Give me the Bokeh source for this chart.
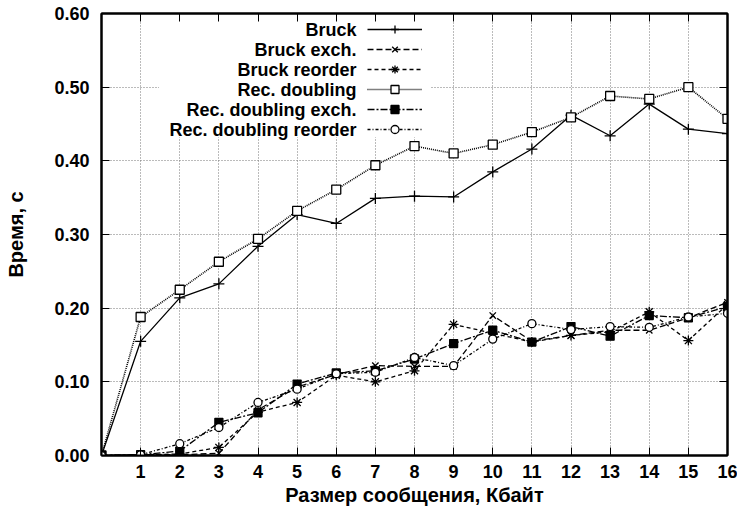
from bokeh.plotting import figure
from bokeh.models import (Legend, LegendItem, LinearAxis, FixedTicker, Label,
                          NumeralTickFormatter, Range1d, BoxAnnotation,
                          CustomJSTickFormatter)
from bokeh.core.properties import value
from bokeh.embed import file_html
from bokeh.resources import INLINE

# ---- data ----
sizes_kb = list(range(0, 17))
bruck = [0, 0.155, 0.214, 0.233, 0.284, 0.327, 0.315, 0.349, 0.352, 0.351,
         0.385, 0.416, 0.462, 0.434, 0.477, 0.443, 0.437]
bruck_exch = [0, 0.001, 0.001, 0.003, 0.062, 0.093, 0.110, 0.122, 0.121, 0.121,
              0.190, 0.155, 0.163, 0.170, 0.170, 0.187, 0.208]
bruck_reorder = [0, 0.001, 0.002, 0.011, 0.059, 0.072, 0.109, 0.100, 0.115, 0.178,
                 0.166, 0.154, 0.163, 0.168, 0.195, 0.156, 0.205]
rec_doubling = [0, 0.188, 0.225, 0.263, 0.294, 0.332, 0.361, 0.394, 0.420, 0.410,
                0.422, 0.439, 0.459, 0.488, 0.484, 0.500, 0.457]
rec_doubling_exch = [0, 0.001, 0.006, 0.045, 0.058, 0.097, 0.112, 0.115, 0.131, 0.152,
                     0.170, 0.154, 0.175, 0.162, 0.190, 0.187, 0.202]
rec_doubling_reorder = [0, 0.001, 0.016, 0.038, 0.072, 0.090, 0.111, 0.113, 0.133, 0.122,
                        0.158, 0.179, 0.171, 0.175, 0.174, 0.188, 0.193]

series_names = ["Bruck", "Bruck exch.", "Bruck reorder", "Rec. doubling",
                "Rec. doubling exch.", "Rec. doubling reorder"]
series_values = [bruck, bruck_exch, bruck_reorder, rec_doubling,
                 rec_doubling_exch, rec_doubling_reorder]

x_ticks = list(range(1, 17))
y_ticks = [0.0, 0.1, 0.2, 0.3, 0.4, 0.5, 0.6]
x_title = "Размер сообщения, Кбайт"
y_title = "Время, с"

# ---- styles ----
dashes = ["solid", "6 3", "4 3", "1 1", "7 2 2 2", "3 2 1 2"]
widths = [1.3, 1.3, 1.3, 1.6, 1.3, 1.3]
markers = ["cross", "x", "asterisk", "square", "square", "circle"]
fills = ["black", "black", "black", "white", "black", "white"]
msizes = [11, 9, 10, 9, 8, 8]

FONT = "Liberation Sans"
W, H = 737, 511
BL, BR, BT, BB = 101, 10, 13, 56
FH = H - BT - BB  # frame height in px

p = figure(width=W, height=H, x_range=Range1d(0, 16), y_range=Range1d(0, 0.6),
           output_backend="svg", toolbar_location=None,
           min_border_left=BL, min_border_right=BR, min_border_top=BT,
           min_border_bottom=BB)

p.outline_line_color = "black"
p.outline_line_width = 2

# grid
p.xgrid.ticker = FixedTicker(ticks=x_ticks[:-1])
p.ygrid.ticker = FixedTicker(ticks=y_ticks)
for g in (p.xgrid, p.ygrid):
    g.grid_line_color = "#777777"
    g.grid_line_dash = "1 2"
    g.grid_line_width = 1

# axes
p.xaxis.ticker = FixedTicker(ticks=x_ticks)
p.yaxis.ticker = FixedTicker(ticks=y_ticks)
p.yaxis.formatter = NumeralTickFormatter(format="0.00")
p.xaxis.axis_label = x_title
p.yaxis.axis_label = y_title
for ax in (p.xaxis, p.yaxis):
    ax.axis_line_width = 2
    ax.major_tick_in = 8
    ax.major_tick_out = 0
    ax.major_tick_line_width = 1
    ax.minor_tick_line_color = None
    ax.major_label_text_font = FONT
    ax.major_label_text_font_style = "bold"
    ax.major_label_text_font_size = "18px"
    ax.major_label_text_color = "black"
    ax.axis_label_text_font = FONT
    ax.axis_label_text_font_style = "bold"
    ax.axis_label_text_font_size = "20px"
    ax.axis_label_text_color = "black"
p.xaxis.major_label_standoff = 9
p.xaxis.axis_label_standoff = 3
p.yaxis.major_label_standoff = 12
p.yaxis.axis_label_standoff = 24

blank = CustomJSTickFormatter(code="return ''")
top_ax = LinearAxis(ticker=FixedTicker(ticks=x_ticks), formatter=blank)
right_ax = LinearAxis(ticker=FixedTicker(ticks=y_ticks), formatter=blank)
for ax in (top_ax, right_ax):
    ax.major_tick_in = 8
    ax.major_tick_out = 0
    ax.minor_tick_line_color = None
    ax.major_label_standoff = 0
    ax.axis_line_width = 2
p.add_layout(top_ax, "above")
p.add_layout(right_ax, "right")

# white backing of the key
p.add_layout(BoxAnnotation(left=1.47, right=8.4, bottom=0.432, top=0.595,
                           fill_color="white", fill_alpha=1.0, line_alpha=0,
                           level="underlay"))

items = []
for name, vals, dsh, lw, mk, fc, ms in zip(series_names, series_values, dashes,
                                           widths, markers, fills, msizes):
    lr = p.line(sizes_kb, vals, line_color="black", line_width=lw, line_dash=dsh)
    sr = p.scatter(sizes_kb, vals, marker=mk, size=ms, line_color="black",
                   fill_color=fc, line_width=1.3)
    items.append(LegendItem(label=value(""), renderers=[lr, sr]))

ROW = 20
KEY_TOP = 6
KEY_X = 266
legend = Legend(items=items, location=(KEY_X, FH - KEY_TOP - ROW * len(items)),
                orientation="vertical",
                glyph_width=55, glyph_height=ROW, label_height=ROW, label_width=0,
                spacing=0, padding=0, margin=0, label_standoff=0,
                background_fill_alpha=0, border_line_alpha=0)
p.add_layout(legend)

# key texts, right-aligned to the left of the samples
for i, name in enumerate(series_names):
    p.add_layout(Label(x=KEY_X - 11, y=FH - KEY_TOP - ROW * i - ROW / 2,
                       x_units="screen", y_units="screen", text=name,
                       text_align="right", text_baseline="middle",
                       text_font=FONT, text_font_style="bold",
                       text_font_size="18px", text_color="black"))

open("out.html", "w").write(file_html(p, INLINE))
